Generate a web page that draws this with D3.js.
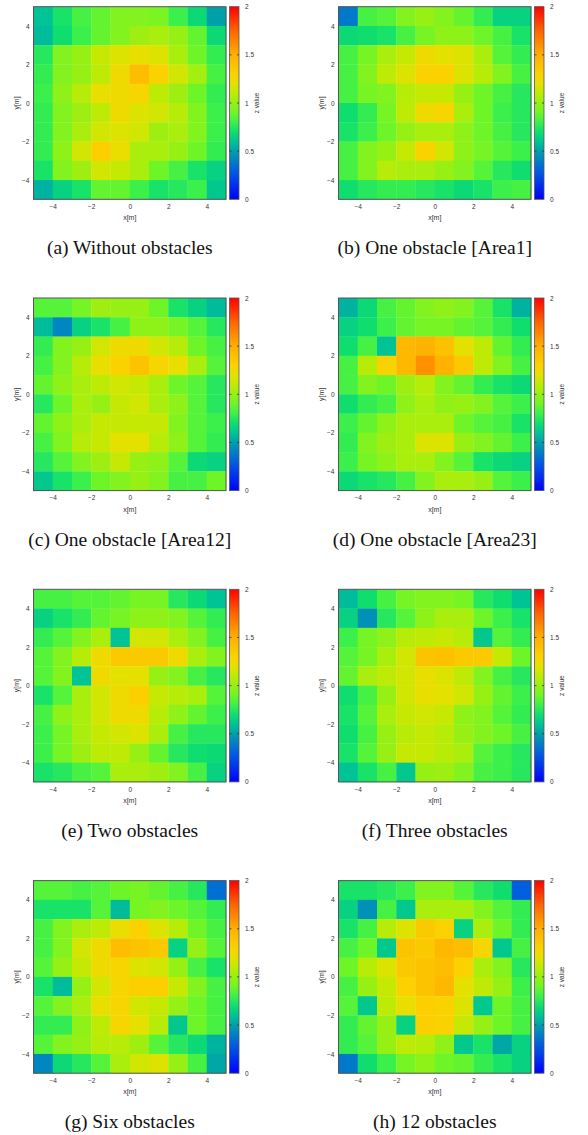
<!DOCTYPE html>
<html>
<head>
<meta charset="utf-8">
<script src="https://cdn.jsdelivr.net/npm/d3@7"></script>
<style>
  html, body { margin: 0; padding: 0; background: #fff; }
  svg { display: block; }
</style>
</head>
<body>
<div id="chart"></div>
<script>
// ---------------- DATA ----------------
const xCenters = [-4.5, -3.5, -2.5, -1.5, -0.5, 0.5, 1.5, 2.5, 3.5, 4.5];
const yCenters = [4.5, 3.5, 2.5, 1.5, 0.5, -0.5, -1.5, -2.5, -3.5, -4.5]; // rows top -> bottom
const axisTicks = [-4, -2, 0, 2, 4];
const cbTicks = [0, 0.5, 1, 1.5, 2];
const cbTickLabels = ["0", "0.5", "1", "1.5", "2"];
const captions = [
  "(a) Without obstacles", "(b) One obstacle [Area1]",
  "(c) One obstacle [Area12]", "(d) One obstacle [Area23]",
  "(e) Two obstacles", "(f) Three obstacles",
  "(g) Six obstacles", "(h) 12 obstacles"
];

const panelA = [
  [0.60, 0.72, 0.82, 0.88, 0.95, 0.95, 0.93, 0.80, 0.68, 0.50],
  [0.58, 0.70, 0.80, 0.88, 0.95, 1.02, 1.05, 1.00, 0.88, 0.68],
  [0.75, 0.95, 1.00, 1.12, 1.18, 1.22, 1.18, 1.05, 0.90, 0.78],
  [0.78, 0.95, 1.00, 1.10, 1.25, 1.42, 1.30, 1.15, 1.03, 0.82],
  [0.80, 0.98, 1.08, 1.22, 1.25, 1.28, 1.10, 1.02, 0.90, 0.78],
  [0.78, 0.95, 1.02, 1.10, 1.25, 1.18, 1.15, 1.08, 0.95, 0.80],
  [0.78, 0.95, 1.05, 1.15, 1.18, 1.15, 1.02, 1.05, 0.95, 0.80],
  [0.78, 0.98, 1.15, 1.32, 1.22, 1.05, 1.05, 1.00, 0.90, 0.78],
  [0.72, 0.95, 1.02, 1.15, 1.12, 1.05, 0.90, 0.82, 0.72, 0.65],
  [0.55, 0.65, 0.72, 0.88, 0.88, 0.80, 0.72, 0.75, 0.80, 0.62]
];
const panelB = [
  [0.38, 0.82, 0.85, 0.95, 1.00, 0.95, 0.88, 0.78, 0.65, 0.65],
  [0.68, 0.70, 0.72, 0.82, 0.92, 0.98, 0.98, 0.90, 0.82, 0.72],
  [0.82, 0.92, 1.05, 1.12, 1.25, 1.20, 1.18, 1.05, 0.85, 0.78],
  [0.82, 0.95, 1.10, 1.18, 1.30, 1.30, 1.18, 1.08, 0.95, 0.82],
  [0.82, 0.92, 0.95, 1.08, 1.12, 1.12, 1.00, 0.90, 0.82, 0.75],
  [0.70, 0.78, 0.92, 1.10, 1.25, 1.28, 1.05, 0.90, 0.80, 0.75],
  [0.72, 0.80, 0.90, 1.00, 1.05, 1.05, 0.98, 0.90, 0.82, 0.75],
  [0.82, 0.95, 1.00, 1.12, 1.30, 1.15, 0.98, 0.92, 0.85, 0.80],
  [0.82, 0.95, 1.08, 1.05, 1.05, 1.00, 0.95, 0.85, 0.75, 0.70],
  [0.70, 0.75, 0.78, 0.78, 0.75, 0.72, 0.68, 0.72, 0.80, 0.82]
];
const panelC = [
  [0.85, 0.85, 0.92, 1.02, 1.00, 1.00, 0.90, 0.72, 0.65, 0.58],
  [0.58, 0.42, 0.65, 0.72, 0.82, 0.98, 0.98, 0.92, 0.85, 0.75],
  [0.78, 0.95, 1.00, 1.15, 1.25, 1.25, 1.15, 1.08, 0.90, 0.82],
  [0.82, 0.95, 1.08, 1.22, 1.30, 1.38, 1.28, 1.22, 1.05, 0.85],
  [0.88, 0.98, 1.05, 1.10, 1.15, 1.12, 1.05, 0.90, 0.85, 0.75],
  [0.75, 0.90, 1.05, 1.00, 1.12, 1.15, 1.05, 0.98, 0.85, 0.75],
  [0.88, 0.98, 1.05, 1.12, 1.12, 1.12, 1.12, 0.95, 0.85, 0.80],
  [0.82, 0.95, 1.08, 1.12, 1.20, 1.20, 1.08, 0.98, 0.85, 0.78],
  [0.75, 0.85, 0.95, 1.02, 1.12, 1.00, 0.98, 0.85, 0.68, 0.65],
  [0.62, 0.72, 0.80, 0.90, 0.95, 1.00, 0.95, 0.82, 0.82, 0.90]
];
const panelD = [
  [0.55, 0.68, 0.82, 0.88, 0.95, 0.98, 0.95, 0.85, 0.72, 0.55],
  [0.65, 0.70, 0.80, 0.88, 0.92, 0.92, 0.88, 0.85, 0.78, 0.70],
  [0.70, 0.82, 0.60, 1.45, 1.48, 1.40, 1.20, 1.10, 0.88, 0.78],
  [0.82, 1.08, 1.30, 1.45, 1.60, 1.48, 1.35, 1.10, 0.95, 0.82],
  [0.82, 0.95, 0.90, 1.02, 1.08, 0.95, 0.88, 0.78, 0.72, 0.68],
  [0.70, 0.78, 0.82, 0.98, 1.05, 0.98, 1.00, 0.95, 0.85, 0.80],
  [0.80, 0.88, 0.98, 1.05, 1.05, 1.05, 0.90, 0.85, 0.82, 0.72],
  [0.78, 0.95, 1.02, 1.05, 1.18, 1.18, 1.00, 0.95, 0.88, 0.80],
  [0.80, 0.92, 0.98, 1.05, 1.05, 0.95, 0.85, 0.72, 0.68, 0.65],
  [0.68, 0.72, 0.75, 0.82, 0.95, 1.05, 1.05, 1.00, 0.85, 0.80]
];
const panelE = [
  [0.82, 0.82, 0.85, 0.85, 0.88, 0.92, 0.92, 0.75, 0.68, 0.60],
  [0.65, 0.72, 0.78, 0.88, 0.92, 0.98, 0.98, 0.95, 0.85, 0.78],
  [0.78, 0.85, 0.95, 1.05, 0.60, 1.15, 1.15, 1.05, 0.95, 0.82],
  [0.85, 0.95, 1.08, 1.25, 1.35, 1.35, 1.35, 1.25, 1.05, 0.95],
  [0.85, 0.95, 0.60, 1.25, 1.20, 1.20, 1.00, 0.95, 0.82, 0.75],
  [0.72, 0.85, 1.05, 1.15, 1.25, 1.32, 1.12, 1.08, 1.05, 0.85],
  [0.82, 0.98, 1.05, 1.15, 1.25, 1.25, 1.08, 0.98, 0.88, 0.80],
  [0.80, 0.92, 1.05, 1.12, 1.15, 1.18, 1.05, 0.82, 0.75, 0.75],
  [0.80, 0.92, 1.02, 1.10, 1.10, 1.00, 0.88, 0.75, 0.70, 0.68],
  [0.72, 0.75, 0.82, 0.85, 1.05, 1.05, 1.02, 0.95, 0.82, 0.65]
];
const panelF = [
  [0.58, 0.70, 0.82, 0.92, 0.95, 0.95, 0.92, 0.75, 0.70, 0.60],
  [0.65, 0.45, 0.75, 0.85, 0.98, 1.05, 1.05, 0.90, 0.80, 0.72],
  [0.80, 0.92, 0.98, 1.08, 1.10, 1.12, 1.08, 0.62, 0.85, 0.78],
  [0.85, 0.92, 1.05, 1.15, 1.38, 1.40, 1.35, 1.35, 1.12, 0.90],
  [0.88, 1.05, 1.10, 1.15, 1.22, 1.18, 1.10, 0.95, 0.82, 0.75],
  [0.70, 0.82, 1.00, 1.15, 1.22, 1.20, 1.15, 1.00, 0.88, 0.80],
  [0.72, 0.85, 1.05, 1.12, 1.15, 1.12, 0.98, 0.95, 0.85, 0.78],
  [0.70, 0.82, 1.00, 1.08, 1.12, 1.08, 1.00, 0.95, 0.90, 0.82],
  [0.72, 0.85, 1.00, 1.12, 1.12, 1.08, 1.05, 0.85, 0.80, 0.75],
  [0.60, 0.72, 0.82, 0.62, 1.00, 1.02, 0.95, 0.82, 0.80, 0.75]
];
const panelG = [
  [0.85, 0.85, 0.82, 0.85, 0.90, 0.92, 0.88, 0.82, 0.75, 0.35],
  [0.72, 0.72, 0.72, 0.85, 0.58, 0.92, 0.95, 0.90, 0.85, 0.78],
  [0.82, 0.95, 1.05, 1.10, 1.22, 1.30, 1.18, 1.08, 0.90, 0.82],
  [0.82, 0.95, 1.15, 1.25, 1.42, 1.38, 1.35, 0.65, 1.00, 0.85],
  [0.85, 1.00, 1.12, 1.25, 1.28, 1.18, 1.15, 1.00, 0.82, 0.72],
  [0.72, 0.58, 1.00, 1.15, 1.28, 1.32, 1.32, 1.12, 0.95, 0.82],
  [0.85, 0.95, 1.05, 1.22, 1.28, 1.15, 1.12, 1.00, 0.90, 0.82],
  [0.78, 0.78, 0.98, 1.10, 1.28, 1.20, 1.08, 0.62, 0.90, 0.82],
  [0.85, 0.95, 1.00, 1.08, 1.08, 1.02, 0.85, 0.75, 0.68, 0.55],
  [0.42, 0.68, 0.75, 0.85, 1.05, 1.15, 1.18, 1.00, 0.82, 0.52]
];
const panelH = [
  [0.72, 0.72, 0.75, 0.80, 0.95, 0.95, 0.85, 0.75, 0.70, 0.30],
  [0.65, 0.45, 0.82, 0.62, 1.05, 1.05, 1.05, 0.95, 0.85, 0.78],
  [0.72, 0.82, 1.08, 1.18, 1.35, 1.30, 0.65, 1.05, 0.90, 0.78],
  [0.82, 0.90, 0.62, 1.38, 1.35, 1.45, 1.42, 1.28, 0.62, 0.82],
  [0.90, 1.08, 1.18, 1.35, 1.38, 1.42, 1.30, 1.05, 0.95, 0.75],
  [0.82, 1.00, 1.12, 1.30, 1.38, 1.45, 1.20, 1.10, 1.00, 0.80],
  [0.85, 0.62, 1.10, 1.22, 1.32, 1.30, 1.18, 0.62, 0.90, 0.82],
  [0.78, 0.88, 1.00, 0.65, 1.32, 1.30, 1.12, 1.00, 0.90, 0.82],
  [0.78, 0.85, 1.00, 1.10, 1.08, 0.98, 0.62, 0.72, 0.52, 0.65],
  [0.38, 0.70, 0.80, 0.92, 0.98, 0.90, 0.88, 0.78, 0.72, 0.65]
];
const panels = [panelA, panelB, panelC, panelD, panelE, panelF, panelG, panelH];

// ---------------- STYLE / LAYOUT ----------------
const W = 588, H = 1135;
const colLeft = [33.5, 338.5];
const rowTop = [6.7, 298.0, 589.3, 880.6];
const plotW = 192.5, plotH = 192.6;
const cbGap = 3.5, cbW = 9.5;
const paletteStops = [0, 0.3, 0.5, 0.6, 0.7, 0.8, 0.9, 1.0, 1.1, 1.2, 1.3, 1.5, 1.75, 2];
const paletteColors = ["#0000ff", "#005fe1", "#00a0aa", "#00c396", "#0fde6e", "#3cf04b",
  "#6ef528", "#96f014", "#beeb05", "#e4e100", "#fad200", "#ffaf00", "#ff6400", "#ff0000"];
const color = d3.scaleLinear().domain(paletteStops).range(paletteColors).clamp(true);
const tickFont = "Liberation Sans, Arial, sans-serif";

const svg = d3.select("#chart").append("svg")
  .attr("width", W).attr("height", H).attr("viewBox", `0 0 ${W} ${H}`);

// colorbar gradient
const defs = svg.append("defs");
const grad = defs.append("linearGradient").attr("id", "cbgrad")
  .attr("x1", 0).attr("y1", 1).attr("x2", 0).attr("y2", 0);
grad.selectAll("stop").data(paletteStops).join("stop")
  .attr("offset", d => d / 2)
  .attr("stop-color", d => color(d));

panels.forEach((data, i) => {
  const col = i % 2, row = Math.floor(i / 2);
  const left = colLeft[col], top = rowTop[row];
  const x = d3.scaleLinear().domain([-5, 5]).range([left, left + plotW]);
  const y = d3.scaleLinear().domain([-5, 5]).range([top + plotH, top]);
  const g = svg.append("g");

  // cells
  const cells = [];
  data.forEach((r, ri) => r.forEach((v, ci) => cells.push({ xc: xCenters[ci], yc: yCenters[ri], v })));
  g.selectAll("rect.cell").data(cells).join("rect")
    .attr("class", "cell")
    .attr("x", d => x(d.xc - 0.5))
    .attr("y", d => y(d.yc + 0.5))
    .attr("width", d => x(d.xc + 0.5) - x(d.xc - 0.5) + 0.3)
    .attr("height", d => y(d.yc - 0.5) - y(d.yc + 0.5) + 0.3)
    .attr("fill", d => color(d.v));

  // frame
  g.append("rect").attr("x", left).attr("y", top).attr("width", plotW).attr("height", plotH)
    .attr("fill", "none").attr("stroke", "#555").attr("stroke-width", 1);

  // axes
  const xAxis = d3.axisBottom(x).tickValues(axisTicks).tickSize(0).tickPadding(5);
  const gx = g.append("g").attr("transform", `translate(0,${top + plotH})`).call(xAxis);
  const yAxis = d3.axisLeft(y).tickValues(axisTicks).tickSize(0).tickPadding(4);
  const gy = g.append("g").attr("transform", `translate(${left},0)`).call(yAxis);
  [gx, gy].forEach(a => {
    a.select(".domain").remove();
    a.selectAll("text").attr("font-family", tickFont).attr("font-size", 6.5).attr("fill", "#333");
  });

  g.append("text").attr("x", left + plotW / 2).attr("y", top + plotH + 21)
    .attr("text-anchor", "middle").attr("font-family", tickFont).attr("font-size", 7)
    .attr("fill", "#333").text("x[m]");
  g.append("text")
    .attr("transform", `translate(${left - 15},${top + plotH / 2}) rotate(-90)`)
    .attr("text-anchor", "middle").attr("font-family", tickFont).attr("font-size", 7)
    .attr("fill", "#333").text("y[m]");

  // colorbar
  const cbX = left + plotW + cbGap;
  const cbScale = d3.scaleLinear().domain([0, 2]).range([top + plotH, top]);
  g.append("rect").attr("x", cbX).attr("y", top).attr("width", cbW).attr("height", plotH)
    .attr("fill", "url(#cbgrad)").attr("stroke", "#555").attr("stroke-width", 0.8);
  const cbAxis = d3.axisRight(cbScale).tickValues(cbTicks).tickSize(0).tickPadding(6)
    .tickFormat((d, k) => cbTickLabels[k]);
  const gcb = g.append("g").attr("transform", `translate(${cbX + cbW},0)`).call(cbAxis);
  gcb.select(".domain").remove();
  gcb.selectAll("text").attr("font-family", tickFont).attr("font-size", 6.5).attr("fill", "#333");
  // inner tick dashes on colorbar
  const midTicks = cbTicks.filter(t => t > 0 && t < 2);
  g.selectAll("line.cbl").data(midTicks).join("line").attr("class", "cbl")
    .attr("x1", cbX).attr("x2", cbX + 2).attr("y1", d => cbScale(d)).attr("y2", d => cbScale(d))
    .attr("stroke", "#333").attr("stroke-width", 0.8);
  g.selectAll("line.cbr").data(midTicks).join("line").attr("class", "cbr")
    .attr("x1", cbX + cbW - 2).attr("x2", cbX + cbW).attr("y1", d => cbScale(d)).attr("y2", d => cbScale(d))
    .attr("stroke", "#333").attr("stroke-width", 0.8);
  g.append("text")
    .attr("transform", `translate(${cbX + 28},${top + plotH / 2}) rotate(-90)`)
    .attr("text-anchor", "middle").attr("dominant-baseline", "middle")
    .attr("font-family", tickFont).attr("font-size", 6.5)
    .attr("fill", "#333").text("z value");

  // caption
  g.append("text").attr("x", left + plotW / 2).attr("y", top + plotH + 55)
    .attr("text-anchor", "middle").attr("font-family", "Liberation Serif, Times New Roman, serif")
    .attr("font-size", 19.5).attr("fill", "#111").text(captions[i]);
});
</script>
</body>
</html>
